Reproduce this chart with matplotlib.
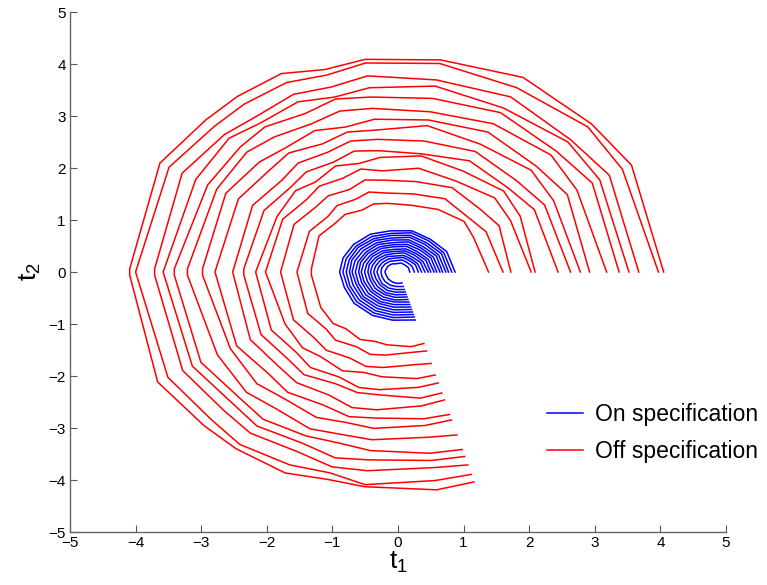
import numpy as np
from matplotlib import pyplot as plt

plt.rcParams['font.family'] = ['Liberation Sans', 'DejaVu Sans']
plt.rcParams['mathtext.fontset'] = 'custom'
plt.rcParams['mathtext.rm'] = 'Liberation Sans'

# vertex angles (degrees) shared by the off-spec curves
red_angles = [0, 30, 44, 63, 81, 97, 106, 115, 126, 135, 150, 180,
              210, 225, 234, 246, 255, 263, 278, 286]

# radius of each off-spec curve at those angles (outer to inner)
red_radii = [
    [4.05, 4.11, 4.10, 4.20, 4.13, 4.12, 4.05, 4.21, 4.17, 4.14, 4.19, 4.09, 4.23, 4.18, 4.20, 4.23, 4.13, 4.16, 4.23, 4.20],
    [3.97, 3.95, 4.02, 3.98, 4.06, 4.05, 3.94, 4.02, 3.99, 3.96, 4.03, 4.00, 4.05, 4.02, 4.10, 4.06, 4.00, 4.12, 4.05, 4.05],
    [3.67, 3.72, 3.66, 3.78, 3.74, 3.80, 3.70, 3.77, 3.69, 3.74, 3.80, 3.71, 3.79, 3.76, 3.83, 3.78, 3.88, 3.85, 3.80, 3.86],
    [3.52, 3.55, 3.60, 3.54, 3.62, 3.57, 3.50, 3.61, 3.55, 3.64, 3.56, 3.58, 3.62, 3.57, 3.66, 3.60, 3.70, 3.64, 3.66, 3.69],
    [3.37, 3.42, 3.35, 3.44, 3.38, 3.39, 3.46, 3.36, 3.45, 3.40, 3.35, 3.41, 3.47, 3.42, 3.50, 3.45, 3.41, 3.46, 3.52, 3.55],
    [3.18, 3.15, 3.24, 3.20, 3.12, 3.17, 3.22, 3.14, 3.21, 3.26, 3.19, 3.21, 3.18, 3.27, 3.22, 3.30, 3.24, 3.25, 3.21, 3.26],
    [2.92, 2.98, 2.93, 3.02, 2.96, 2.96, 2.90, 3.00, 2.94, 2.99, 3.03, 2.98, 2.95, 3.04, 2.99, 3.06, 3.00, 3.03, 2.98, 2.96],
    [2.78, 2.74, 2.82, 2.76, 2.85, 2.75, 2.80, 2.72, 2.83, 2.77, 2.81, 2.79, 2.84, 2.78, 2.86, 2.80, 2.88, 2.83, 2.85, 2.85],
    [2.63, 2.58, 2.52, 2.60, 2.55, 2.57, 2.62, 2.54, 2.59, 2.50, 2.56, 2.52, 2.60, 2.57, 2.63, 2.59, 2.70, 2.67, 2.60, 2.56],
    [2.44, 2.40, 2.33, 2.40, 2.30, 2.35, 2.42, 2.33, 2.38, 2.31, 2.36, 2.35, 2.41, 2.37, 2.44, 2.35, 2.40, 2.38, 2.45, 2.42],
    [2.09, 2.15, 2.24, 2.18, 2.26, 2.22, 2.17, 2.25, 2.14, 2.21, 2.13, 2.17, 2.23, 2.19, 2.27, 2.21, 2.30, 2.28, 2.24, 2.22],
    [2.03, 1.98, 2.05, 1.96, 2.02, 1.96, 2.06, 1.99, 2.04, 1.97, 2.03, 2.02, 1.99, 2.06, 2.01, 2.08, 2.00, 2.03, 2.07, 2.06],
    [1.72, 1.78, 1.74, 1.82, 1.76, 1.78, 1.84, 1.75, 1.81, 1.77, 1.83, 1.79, 1.84, 1.80, 1.86, 1.81, 1.88, 1.85, 1.80, 1.83],
    [1.60, 1.55, 1.50, 1.58, 1.52, 1.53, 1.60, 1.54, 1.58, 1.51, 1.56, 1.54, 1.59, 1.55, 1.62, 1.57, 1.64, 1.61, 1.56, 1.58],
    [1.38, 1.33, 1.40, 1.35, 1.30, 1.33, 1.36, 1.31, 1.37, 1.34, 1.39, 1.32, 1.36, 1.40, 1.35, 1.42, 1.38, 1.41, 1.45, 1.43],
]
# curves showing the little vertical tick at the left vertex
red_ticked = [0, 2, 4, 5, 6, 9, 14]

blue_angles = [0, 28, 52, 75, 98, 120, 142, 162, 180, 200, 222, 245, 265, 286]
blue_radii = [
    [0.87, 0.84, 0.80, 0.82, 0.80, 0.84, 0.86, 0.88, 0.89, 0.87, 0.90, 0.92, 0.93, 0.96],
    [0.82, 0.79, 0.76, 0.78, 0.75, 0.79, 0.81, 0.83, 0.84, 0.82, 0.85, 0.87, 0.88, 0.90],
    [0.77, 0.75, 0.71, 0.73, 0.71, 0.74, 0.77, 0.78, 0.79, 0.78, 0.80, 0.82, 0.83, 0.85],
    [0.73, 0.70, 0.67, 0.69, 0.66, 0.70, 0.72, 0.74, 0.74, 0.73, 0.75, 0.77, 0.78, 0.80],
    [0.68, 0.66, 0.62, 0.64, 0.62, 0.65, 0.67, 0.69, 0.70, 0.68, 0.71, 0.72, 0.73, 0.75],
    [0.64, 0.61, 0.58, 0.60, 0.57, 0.61, 0.62, 0.64, 0.65, 0.64, 0.66, 0.67, 0.68, 0.70],
    [0.59, 0.57, 0.54, 0.55, 0.53, 0.56, 0.58, 0.60, 0.60, 0.59, 0.61, 0.63, 0.63, 0.65],
    [0.55, 0.52, 0.49, 0.51, 0.49, 0.52, 0.53, 0.55, 0.56, 0.55, 0.56, 0.58, 0.58, 0.60],
    [0.50, 0.48, 0.45, 0.46, 0.44, 0.47, 0.49, 0.50, 0.51, 0.50, 0.52, 0.53, 0.54, 0.55],
    [0.46, 0.43, 0.41, 0.42, 0.40, 0.43, 0.44, 0.46, 0.46, 0.45, 0.47, 0.48, 0.49, 0.50],
    [0.41, 0.39, 0.36, 0.38, 0.36, 0.38, 0.40, 0.41, 0.42, 0.41, 0.42, 0.44, 0.44, 0.45],
    [0.36, 0.34, 0.32, 0.33, 0.31, 0.34, 0.35, 0.36, 0.37, 0.36, 0.37, 0.39, 0.39, 0.40],
    [0.31, 0.30, 0.28, 0.29, 0.27, 0.29, 0.30, 0.31, 0.32, 0.31, 0.33, 0.34, 0.34, 0.35],
    [0.25, 0.24, 0.23, 0.24, 0.22, 0.24, 0.25, 0.26, 0.26, 0.26, 0.27, 0.28, 0.28, 0.29],
    [0.18, 0.18, 0.17, 0.18, 0.16, 0.18, 0.19, 0.19, 0.20, 0.19, 0.20, 0.21, 0.22, 0.22],
]

ticks = [-5, -4, -3, -2, -1, 0, 1, 2, 3, 4, 5]


def polar_xy(angles, radii, tick=False):
    a = np.deg2rad(np.array(angles, dtype=float))
    r = np.array(radii, dtype=float)
    x = r*np.cos(a)
    y = r*np.sin(a)
    if tick:
        k = list(angles).index(180)
        x = np.insert(x, k, x[k])
        y = np.insert(y, k, 0.06)
        y[k+1] = -0.06
    return x, y


fig = plt.figure(figsize=(7.67, 5.85), dpi=100)
ax = fig.add_axes([70/767, 53/585, 656/767, 520/585])

for i, rr in enumerate(red_radii):
    x, y = polar_xy(red_angles, rr, i in red_ticked)
    ax.plot(x, y, color='#ff0000', lw=1.1,
            label='Off specification' if i == 0 else None)
for i, rr in enumerate(blue_radii):
    x, y = polar_xy(blue_angles, rr)
    ax.plot(x, y, color='#0000ff', lw=1.1,
            label='On specification' if i == 0 else None)

ax.set_xlim(-5, 5)
ax.set_ylim(-5, 5)
ax.set_xticks(ticks)
ax.set_yticks(ticks)
ax.tick_params(direction='in', length=5, width=0.8, color='#555555',
               labelsize=11, pad=3)
for s in ['top', 'right']:
    ax.spines[s].set_visible(False)
for s in ['left', 'bottom']:
    ax.spines[s].set_color('#666666')
    ax.spines[s].set_linewidth(1.0)

ax.set_xlabel(r'$\mathrm{t_1}$', fontsize=19, labelpad=0)
ax.set_ylabel(r'$\mathrm{t_2}$', fontsize=19, labelpad=4)

h, l = ax.get_legend_handles_labels()
order = [l.index('On specification'), l.index('Off specification')]
ax.legend([h[j] for j in order], [l[j] for j in order],
          loc='upper left', bbox_to_anchor=(547/767, 1-403/585),
          bbox_transform=fig.transFigure, frameon=False, fontsize=16.5,
          handlelength=1.57, handletextpad=0.52, borderpad=0,
          borderaxespad=0, labelspacing=0.62)

fig.savefig('out.png', dpi=100)
